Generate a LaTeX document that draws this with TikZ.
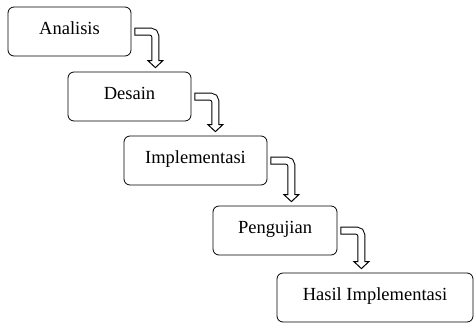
\documentclass[tikz,border=0pt]{standalone}
\usepackage{fontspec}
\setmainfont{Liberation Serif}
\usetikzlibrary{calc}
\tikzset{x=1pt,y=-1pt,
  phase/.style={draw, thick, rounded corners=6pt, minimum height=49pt,
    text height=12pt, text depth=6pt, font=\fontsize{18.5}{20}\selectfont},
  shaftout/.style={draw=black, line width=8pt, rounded corners=5pt},
  shaftin/.style={draw=white, line width=6pt, rounded corners=5pt},
  headtip/.style={draw=black, fill=white, line width=1pt, line join=miter}}

% bent hollow arrow from the right side of #1 down onto #2
\newcommand{\turnarrow}[2]{%
  \coordinate (s) at ([xshift=3pt]#1.east);
  \coordinate (k) at ([xshift=24pt]#1.east);
  \coordinate (h) at ([yshift=11pt]k |- #2.north);
  \coordinate (t) at ([yshift=4pt]k |- #2.north);
  \draw[shaftout] (s) -- (k) -- (h);
  \draw[headtip] ([xshift=-7.5pt]h) -- ([xshift=7.5pt]h) -- (t) -- cycle;
  \draw[shaftin] ([xshift=1pt]s) -- (k) -- ([yshift=-1.2pt]h);
}

\begin{document}
\begin{tikzpicture}
	\useasboundingbox (0,0) rectangle (474,325);
	\node[phase, minimum width=123pt] (analisis)     at (69.5,31.5)  {Analisis};
	\node[phase, minimum width=123pt] (desain)       at (129.5,96.5) {Desain};
	\node[phase, minimum width=143pt] (implementasi) at (195.5,160.5) {Implementasi};
	\node[phase, minimum width=124pt] (pengujian)    at (275,230.5)  {Pengujian};
	\node[phase, minimum width=196pt] (hasil)        at (375,297.5)  {Hasil Implementasi};
	\foreach \a/\b in {analisis/desain, desain/implementasi,
	                   implementasi/pengujian, pengujian/hasil}
		\turnarrow{\a}{\b};
\end{tikzpicture}
\end{document}
